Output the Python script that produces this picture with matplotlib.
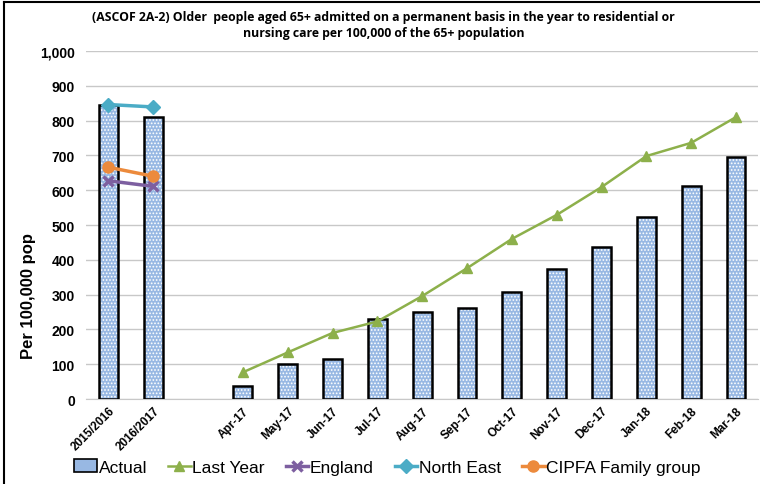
import matplotlib.pyplot as plt
import matplotlib.lines as mlines
import numpy as np

#Data
categories = ['2015/2016', '2016/2017', '', 'Apr-17', 'May-17', 'Jun-17', 'Jul-17', 'Aug-17',
              'Sep-17', 'Oct-17', 'Nov-17', 'Dec-17', 'Jan-18', 'Feb-18', 'Mar-18']
actual = [846, 811, np.nan, 38, 101, 115, 231, 249, 263, 307, 374, 436, 524, 611, 696]
last_year = [np.nan, np.nan, np.nan, 77, 134, 190, 223, 296, 376, 460, 529, 609, 698, 736, 810]
england = [627, 611]
north_east = [846, 839]
cipfa = [666, 640]

title = ('(ASCOF 2A-2) Older  people aged 65+ admitted on a permanent basis in the year to residential or\n'
         'nursing care per 100,000 of the 65+ population')

plt.rcParams['font.family'] = ['Liberation Sans', 'DejaVu Sans']

x = np.arange(len(categories))

fig = plt.figure(figsize=(7.6, 4.85), dpi=100)
ax = fig.add_axes([0.113, 0.175, 0.885, 0.718])

#bars: dotted fill first, then black outline on top
plt.rcParams['hatch.linewidth'] = 0.8
ax.bar(x, actual, width=0.42, color='#98b8e3', edgecolor='white', hatch='.....', lw=0, zorder=2)
ax.bar(x, actual, width=0.42, fill=False, edgecolor='black', lw=1.8, zorder=3)

ax.plot(x, last_year, color='#8db04b', lw=1.8, marker='^', ms=7, zorder=4)
ax.plot(x[:2], england, color='#7d5fa0', lw=2.5, marker='x', ms=7, mew=2.5, zorder=4)
ax.plot(x[:2], north_east, color='#4bacc6', lw=2.5, marker='D', ms=7, zorder=4)
ax.plot(x[:2], cipfa, color='#ec8a3c', lw=2.5, marker='o', ms=8, zorder=4)

ax.set_xlim(-0.5, len(categories) - 0.5)
ax.set_ylim(0, 1000)
ax.set_yticks(np.arange(0, 1001, 100))
ax.set_yticklabels(['{:,}'.format(v) for v in range(0, 1001, 100)], fontsize=10, fontweight='bold')
ax.yaxis.grid(True, color='#c8c8c8', lw=1)
ax.set_axisbelow(True)
ax.tick_params(axis='y', length=0, pad=8)
ax.tick_params(axis='x', length=0, pad=4)
ax.set_xticks(x)
ax.set_xticklabels(categories, rotation=45, ha='right', rotation_mode='anchor',
                   fontsize=8.5, fontweight='bold')
for s in ['top', 'right', 'left']:
    ax.spines[s].set_visible(False)
ax.spines['bottom'].set_color('#c8c8c8')

ax.set_ylabel('Per 100,000 pop', fontsize=12, fontweight='bold', va='center')
ax.yaxis.set_label_coords(-0.085, 0.30)
fig.text(0.505, 0.948, title, ha='center', va='center', fontsize=8.8, fontweight='bold',
         family=['Open Sans', 'DejaVu Sans'], linespacing=1.3)

#legend
bar_handle = plt.Rectangle((0, 0), 1, 1, facecolor='#98b8e3', edgecolor='black', lw=1.2)
h_last = mlines.Line2D([], [], color='#8db04b', lw=1.8, marker='^', ms=7)
h_eng = mlines.Line2D([], [], color='#7d5fa0', lw=2.5, marker='x', ms=7, mew=2.5)
h_ne = mlines.Line2D([], [], color='#4bacc6', lw=2.5, marker='D', ms=7)
h_cip = mlines.Line2D([], [], color='#ec8a3c', lw=2.5, marker='o', ms=8)
fig.legend([bar_handle, h_last, h_eng, h_ne, h_cip],
           ['Actual', 'Last Year', 'England', 'North East', 'CIPFA Family group'],
           loc='center', bbox_to_anchor=(0.51, 0.035), ncol=5, frameon=False,
           fontsize=12.5, handlelength=1.3, handletextpad=0.1, columnspacing=1.2)

#outer frame lines on the top and left
fig.add_artist(mlines.Line2D([0.005, 1], [0.994, 0.994], color='black', lw=1.5))
fig.add_artist(mlines.Line2D([0.005, 0.005], [0, 0.994], color='black', lw=1.5))

plt.savefig('out.png', dpi=100)
plt.close()
